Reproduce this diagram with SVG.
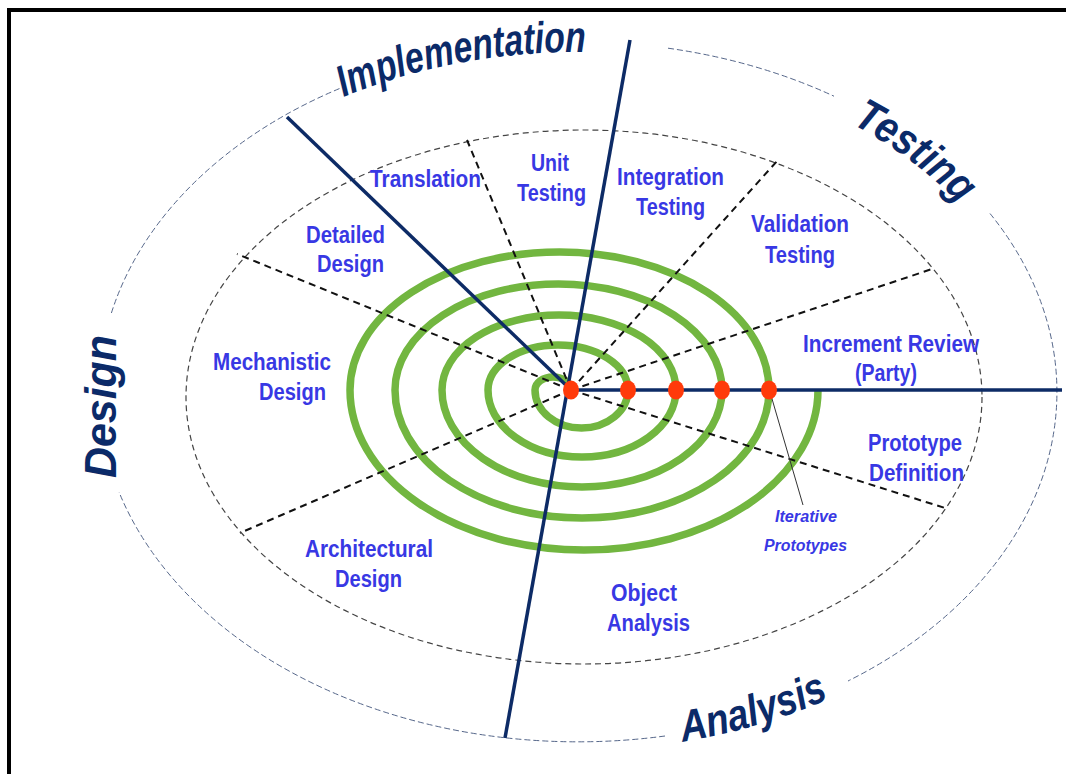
<svg xmlns="http://www.w3.org/2000/svg" width="1066" height="774" viewBox="0 0 1066 774">
<style>
.lbl{font-family:"Liberation Sans",Arial,sans-serif;font-weight:bold;font-size:23px;fill:#3838e4}
.it{font-style:italic;font-size:16px}
.big{font-family:"Liberation Sans",Arial,sans-serif;font-weight:bold;font-style:italic;font-size:44px;fill:#0b2a68}
.outer{fill:none;stroke:#56678a;stroke-width:1;stroke-dasharray:6 3}
.inner{fill:none;stroke:#444;stroke-width:1.2;stroke-dasharray:6 4}
.radial{stroke:#111;stroke-width:2;stroke-dasharray:7 5;fill:none}
.axis{stroke:#0d2b66;stroke-width:3.5;fill:none;stroke-linecap:butt}
.dot{fill:#ff3a0a}
</style>
<defs>
<path id="pImpl" d="M300,117.3 A472,340 0 0 1 700,63.5"/>
<path id="pTest" d="M800,100 A462,333 0 0 1 1030,323"/>
<path id="pAnal" d="M640,747.1 A487,358 0 0 0 880,672.9"/>
</defs>
<rect width="1066" height="774" fill="#ffffff"/>
<path d="M9,774 V10 H1066" fill="none" stroke="#000" stroke-width="4"/>

<g id="outer-ring">
<path class="outer" d="M668,48.2 A479,350 0 0 1 834,96.2"/>
<path class="outer" d="M990,213.5 A479,350 0 0 1 848,681"/>
<path class="outer" d="M665,736 A479,350 0 0 1 119,492"/>
<path class="outer" d="M111.4,313 A479,350 0 0 1 342,87.5"/>
</g>
<g id="inner-ring">
<ellipse class="inner" cx="584" cy="397" rx="398" ry="267"/>
</g>
<g id="spiral">
<path d="M571,390 A18,13 0 0 0 535,390 A46.5,38 0 0 0 628,390 A70,45 0 0 0 488,390 A94,67 0 0 0 676,390 A117,75 0 0 0 442,390 A140,97 0 0 0 722,390 A163.5,106 0 0 0 395,390 A187,128 0 0 0 769,390 A209.5,138 0 0 0 350,390 A234,160 0 0 0 818,390" fill="none" stroke="#72b640" stroke-width="7.5"/>
</g>
<g id="connectors">
<line class="radial" x1="571" y1="390" x2="467" y2="140"/>
<line class="radial" x1="571" y1="390" x2="778" y2="160"/>
<line class="radial" x1="571" y1="390" x2="935" y2="268"/>
<line class="radial" x1="571" y1="390" x2="945" y2="508"/>
<line class="radial" x1="571" y1="390" x2="240" y2="533"/>
<line class="radial" x1="571" y1="390" x2="237" y2="254"/>
<line class="axis" x1="287" y1="117" x2="571" y2="390"/>
<line class="axis" x1="630" y1="40" x2="505" y2="738"/>
<line class="axis" x1="571" y1="390" x2="1062" y2="390" stroke-width="4"/>
<line x1="770" y1="392" x2="803" y2="505" stroke="#333" stroke-width="1"/>
</g>
<g id="iterations">
<ellipse class="dot" cx="571" cy="390" rx="8" ry="9.5"/>
<ellipse class="dot" cx="628" cy="390" rx="8" ry="9.5"/>
<ellipse class="dot" cx="676" cy="390" rx="8" ry="9.5"/>
<ellipse class="dot" cx="722" cy="390" rx="8" ry="9.5"/>
<ellipse class="dot" cx="769" cy="390" rx="8" ry="9.5"/>
</g>

<g id="phase-implementation"><text class="big"><textPath href="#pImpl" startOffset="48" textLength="248" lengthAdjust="spacingAndGlyphs">Implementation</textPath></text></g>
<g id="phase-testing"><text class="big"><textPath href="#pTest" startOffset="57" textLength="135" lengthAdjust="spacingAndGlyphs">Testing</textPath></text></g>
<g id="phase-analysis"><text class="big"><textPath href="#pAnal" startOffset="43" textLength="153" lengthAdjust="spacingAndGlyphs">Analysis</textPath></text></g>
<g id="phase-design"><text class="big" transform="translate(116,478) rotate(-90)" x="0" y="0" textLength="143" lengthAdjust="spacingAndGlyphs">Design</text></g>

<g id="translation"><text class="lbl" x="370" y="187" textLength="111" lengthAdjust="spacingAndGlyphs">Translation</text></g>
<g id="unit-testing"><text class="lbl" x="531" y="171" textLength="38" lengthAdjust="spacingAndGlyphs">Unit</text><text class="lbl" x="517" y="201" textLength="69" lengthAdjust="spacingAndGlyphs">Testing</text></g>
<g id="integration-testing"><text class="lbl" x="617" y="185" textLength="107" lengthAdjust="spacingAndGlyphs">Integration</text><text class="lbl" x="636" y="215" textLength="69" lengthAdjust="spacingAndGlyphs">Testing</text></g>
<g id="validation-testing"><text class="lbl" x="751" y="232" textLength="98" lengthAdjust="spacingAndGlyphs">Validation</text><text class="lbl" x="765" y="263" textLength="70" lengthAdjust="spacingAndGlyphs">Testing</text></g>
<g id="increment-review"><text class="lbl" x="803" y="352" textLength="176" lengthAdjust="spacingAndGlyphs">Increment Review</text><text class="lbl" x="855" y="381" textLength="62" lengthAdjust="spacingAndGlyphs">(Party)</text></g>
<g id="prototype-definition"><text class="lbl" x="868" y="451" textLength="94" lengthAdjust="spacingAndGlyphs">Prototype</text><text class="lbl" x="869" y="481" textLength="95" lengthAdjust="spacingAndGlyphs">Definition</text></g>
<g id="iterative-prototypes"><text class="lbl it" x="775" y="522" textLength="62" lengthAdjust="spacingAndGlyphs">Iterative</text><text class="lbl it" x="764" y="551" textLength="83" lengthAdjust="spacingAndGlyphs">Prototypes</text></g>
<g id="object-analysis"><text class="lbl" x="611" y="601" textLength="66" lengthAdjust="spacingAndGlyphs">Object</text><text class="lbl" x="607" y="631" textLength="83" lengthAdjust="spacingAndGlyphs">Analysis</text></g>
<g id="architectural-design"><text class="lbl" x="305" y="557" textLength="128" lengthAdjust="spacingAndGlyphs">Architectural</text><text class="lbl" x="335" y="587" textLength="67" lengthAdjust="spacingAndGlyphs">Design</text></g>
<g id="mechanistic-design"><text class="lbl" x="213" y="370" textLength="118" lengthAdjust="spacingAndGlyphs">Mechanistic</text><text class="lbl" x="259" y="400" textLength="67" lengthAdjust="spacingAndGlyphs">Design</text></g>
<g id="detailed-design"><text class="lbl" x="306" y="243" textLength="79" lengthAdjust="spacingAndGlyphs">Detailed</text><text class="lbl" x="317" y="272" textLength="67" lengthAdjust="spacingAndGlyphs">Design</text></g>
</svg>
